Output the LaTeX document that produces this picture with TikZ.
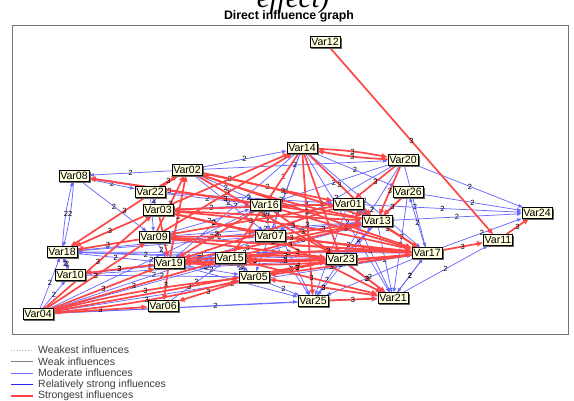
\documentclass[tikz,border=0pt]{standalone}
\usepackage{fontspec}
\setmainfont{Liberation Sans}
\newfontfamily\serifit{Liberation Serif}
\usetikzlibrary{arrows.meta,shadows}
\pgfdeclarelayer{edges}
\pgfsetlayers{edges,main}

\definecolor{nodefill}{RGB}{255,255,224}
\definecolor{strongred}{RGB}{255,70,70}
\definecolor{modblue}{RGB}{105,105,255}
\definecolor{relblue}{RGB}{40,40,240}
\definecolor{legtxt}{RGB}{60,60,60}

\tikzset{
  var/.style={draw=black, line width=0.6pt, fill=nodefill,
    font=\fontsize{10.6}{10.6}\selectfont, inner xsep=1.4pt, inner ysep=1.3pt,
    text height=7.6pt, text depth=0.4pt,
    drop shadow={shadow xshift=1.6pt, shadow yshift=-1.6pt, fill=black!60, opacity=1}},
  redE/.style={draw=strongred, line width=1.7pt, -{Triangle[length=6pt,width=5pt]}},
  blueE/.style={draw=modblue, line width=0.75pt, -{Triangle[length=4.5pt,width=3.4pt]}},
  lab/.style={font=\fontsize{7.5}{7.5}\selectfont, inner sep=0.5pt, text=black},
  legtext/.style={anchor=west, font=\fontsize{10.5}{10.5}\selectfont, text=legtxt, inner sep=0pt},
}

\begin{document}
\begin{tikzpicture}[x=1pt, y=-1pt]
\useasboundingbox (0,0) rectangle (574,401);

% heading
\node[font=\serifit\itshape\fontsize{29}{29}\selectfont, anchor=base, inner sep=0pt] (cut) at (293,8) {effect)};
\node[font=\bfseries\fontsize{12.3}{12.3}\selectfont, inner sep=0pt] (title) at (289,16) {Direct influence graph};

% frame
\draw[black!55, line width=0.9pt] (12,25) rectangle (568,334);

% variables
\node[var] (v12) at (325,42) {Var12};
\node[var] (v14) at (302,148) {Var14};
\node[var] (v20) at (403,160) {Var20};
\node[var] (v08) at (74,176) {Var08};
\node[var] (v02) at (187,170) {Var02};
\node[var] (v22) at (150,192) {Var22};
\node[var] (v26) at (408,192) {Var26};
\node[var] (v16) at (265,205) {Var16};
\node[var] (v01) at (348,204) {Var01};
\node[var] (v03) at (158,210) {Var03};
\node[var] (v24) at (537,213) {Var24};
\node[var] (v13) at (377,221) {Var13};
\node[var] (v09) at (154,237) {Var09};
\node[var] (v07) at (270,236) {Var07};
\node[var] (v11) at (498,240) {Var11};
\node[var] (v18) at (62,252) {Var18};
\node[var] (v17) at (427,253) {Var17};
\node[var] (v15) at (230,258) {Var15};
\node[var] (v23) at (341,259) {Var23};
\node[var] (v19) at (169,263) {Var19};
\node[var] (v10) at (70,275) {Var10};
\node[var] (v05) at (254,277) {Var05};
\node[var] (v25) at (313,301) {Var25};
\node[var] (v21) at (393,298) {Var21};
\node[var] (v06) at (163,306) {Var06};
\node[var] (v04) at (38,314) {Var04};

\begin{pgfonlayer}{edges}
% moderate influences
\foreach \a/\b in {v04/v18, v02/v08, v08/v09, v04/v10, v04/v07, v04/v16, v04/v13,
  v17/v18, v13/v18, v23/v18, v07/v18, v15/v18, v14/v07, v14/v05, v14/v21, v14/v17,
  v14/v16, v14/v19, v14/v26, v02/v14, v20/v24, v20/v17, v20/v23, v20/v16, v20/v07,
  v26/v24, v17/v26, v26/v21, v26/v23, v13/v24, v01/v24, v17/v24, v21/v11, v13/v21,
  v01/v21, v16/v21, v17/v21, v05/v21, v13/v25, v17/v25, v16/v25, v07/v25, v01/v25,
  v02/v16, v02/v07, v02/v20, v22/v16, v22/v01, v03/v16, v03/v01, v09/v16, v09/v13,
  v19/v05, v19/v25, v05/v25, v05/v23, v10/v19, v10/v15, v10/v05, v18/v19, v09/v19,
  v22/v09, v22/v03, v16/v07, v16/v01, v23/v13, v25/v23, v21/v23, v21/v17, v08/v22,
  v04/v25, v04/v17, v06/v15, v04/v21, v10/v23}
  \draw[blueE] (\a) -- node[lab]{2} (\b);
\foreach \a/\b in {v08/v18, v18/v08, v18/v10, v10/v18, v19/v15, v15/v19,
  v05/v15, v15/v05, v01/v13, v13/v01}
  \draw[blueE] (\a) to[bend left=5] node[lab]{2} (\b);

% strongest influences
\foreach \a/\b in {v12/v11, v04/v06, v04/v19, v04/v09, v04/v03, v04/v15, v04/v23,
  v19/v10, v09/v18, v03/v18, v02/v18, v16/v08, v13/v08, v09/v14, v03/v14, v14/v25,
  v14/v23, v14/v13, v02/v17, v02/v01, v03/v13, v03/v07, v09/v17, v09/v07, v09/v23,
  v19/v23, v15/v13, v07/v17, v07/v13, v16/v17, v16/v23, v17/v05, v17/v09, v13/v19,
  v23/v05, v23/v19, v15/v21, v07/v21, v23/v21, v25/v21, v05/v06, v19/v06, v03/v19,
  v09/v02, v19/v02, v22/v02, v02/v23, v20/v01, v20/v13, v26/v13, v13/v17, v01/v17,
  v17/v11, v11/v24, v01/v19, v01/v03, v16/v19, v07/v03, v21/v05, v01/v09, v14/v15}
  \draw[redE] (\a) -- node[lab]{3} (\b);
\foreach \a/\b in {v17/v19, v19/v17, v13/v02, v02/v13, v14/v20, v20/v14,
  v04/v05, v05/v04, v15/v17, v17/v15, v23/v15, v15/v23, v03/v17, v17/v03}
  \draw[redE] (\a) to[bend left=4] node[lab]{3} (\b);
\end{pgfonlayer}

% legend
\draw[black!30, dotted, line width=0.8pt] (11,350) -- (33,350);
\node[legtext] (leg1) at (38,350) {Weakest influences};
\draw[black!50, line width=0.8pt] (11,361.5) -- (33,361.5);
\node[legtext] (leg2) at (38,361.5) {Weak influences};
\draw[modblue, line width=0.8pt] (11,373) -- (33,373);
\node[legtext] (leg3) at (38,373) {Moderate influences};
\draw[relblue, line width=1.3pt] (11,384.5) -- (33,384.5);
\node[legtext] (leg4) at (38,384.5) {Relatively strong influences};
\draw[strongred, line width=1.5pt] (11,396) -- (33,396);
\node[legtext] (leg5) at (38,396) {Strongest influences};
\end{tikzpicture}
\end{document}
